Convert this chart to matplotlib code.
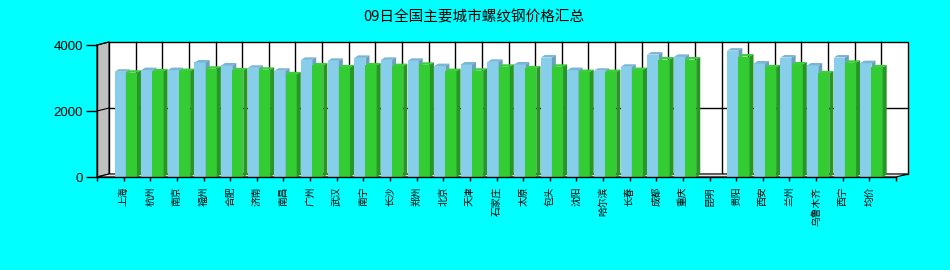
import numpy as np
import matplotlib
matplotlib.use("Agg")
import matplotlib.pyplot as plt
from matplotlib.patches import Polygon

plt.rcParams['font.family'] = ['Noto Sans CJK SC', 'DejaVu Sans']

cities = ['上海', '杭州', '南京', '福州', '合肥', '济南', '南昌', '广州', '武汉', '南宁',
          '长沙', '郑州', '北京', '天津', '石家庄', '太原', '包头', '沈阳', '哈尔滨', '长春',
          '成都', '重庆', '昆明', '贵阳', '西安', '兰州', '乌鲁木齐', '西宁', '均价']
price_a = [3190, 3240, 3240, 3470, 3380, 3310, 3220, 3550, 3520, 3610,
           3550, 3520, 3360, 3410, 3490, 3410, 3620, 3240, 3220, 3340,
           3710, 3640, np.nan, 3830, 3440, 3620, 3380, 3620, 3450]
price_b = [3160, 3200, 3210, 3280, 3230, 3250, 3110, 3380, 3320, 3380,
           3360, 3400, 3210, 3220, 3340, 3290, 3340, 3180, 3180, 3240,
           3560, 3560, np.nan, 3650, 3320, 3410, 3140, 3460, 3320]
yticks = [0, 2000, 4000]

W, H = 950, 270
fig = plt.figure(figsize=(9.5, 2.7), dpi=100, facecolor='#00FFFF')
# front plane of the 3D box in pixels: x 97..896, y 177 (0) .. 45 (4000)
ax = fig.add_axes([97 / W, (H - 177) / H, 799 / W, 132 / H])
ax.set_xlim(0, 30)
ax.set_ylim(0, 4000)
ax.patch.set_alpha(0)

upx = 30 / 799.0      # x units per pixel
upy = 4000 / 132.0    # y units per pixel
wdx, wdy = 12 * upx, 3 * upy   # wall depth
bdx, bdy = 4 * upx, 2.5 * upy  # bar depth

def poly(pts, fc, ec='none', lw=0.8, z=1):
    p = Polygon(pts, closed=True, facecolor=fc, edgecolor=ec, linewidth=lw,
                zorder=z, clip_on=False)
    ax.add_patch(p)

# back wall
poly([(wdx, wdy), (30 + wdx, wdy), (30 + wdx, 4000 + wdy), (wdx, 4000 + wdy)],
     'white', 'black', 1.0, 0)
for t in yticks[1:-1]:
    ax.plot([wdx, 30 + wdx], [t + wdy, t + wdy], color='black', lw=1.0,
            zorder=0.5, clip_on=False)
for k in range(1, 30):
    ax.plot([k + wdx, k + wdx], [wdy, 4000 + wdy], color='black', lw=1.0,
            zorder=0.5, clip_on=False)
# left wall
poly([(0, 0), (wdx, wdy), (wdx, 4000 + wdy), (0, 4000)], '#C0C0C0', 'black', 0.8, 0.6)
for t in yticks[1:]:
    ax.plot([0, wdx], [t, t + wdy], color='black', lw=0.8, zorder=0.7, clip_on=False)
# floor
poly([(0, 0), (wdx, wdy), (30 + wdx, wdy), (30, 0)], '#E4E4E4', 'black', 0.8, 0.6)

x = np.arange(1, len(cities) + 1)

def bar3d(x0, w, v, front, top, side):
    if np.isnan(v):
        return
    ax.bar(x0, v, width=w, align='edge', color=front, zorder=2, linewidth=0)
    poly([(x0, v), (x0 + w, v), (x0 + w + bdx, v + bdy), (x0 + bdx, v + bdy)], top, z=2)
    poly([(x0 + w, 0), (x0 + w + bdx, bdy), (x0 + w + bdx, v + bdy), (x0 + w, v)], side, z=2)

for xi, a, b in zip(x, price_a, price_b):
    bar3d(xi - 0.34, 0.42, a, '#87CEEB', '#78B6D4', '#6A9FBD')
    bar3d(xi + 0.08, 0.42, b, '#33CC33', '#3AD03A', '#269626')

ax.spines['top'].set_visible(False)
ax.spines['right'].set_visible(False)
ax.spines['left'].set_linewidth(1.0)
ax.spines['bottom'].set_linewidth(1.0)
ax.spines['left'].set_zorder(3)
ax.spines['bottom'].set_zorder(3)

ax.set_yticks(yticks)
ax.set_yticklabels([str(t) for t in yticks], fontsize=9.5,
                   family=['Liberation Sans', 'DejaVu Sans'])
ax.tick_params(axis='y', length=8, width=1.0, pad=2)
ax.set_xticks(np.arange(0, 31))
ax.set_xticklabels([''] + cities + [''], rotation=90, fontsize=7, va='top')
ax.tick_params(axis='x', length=3, width=1.0, pad=4)

fig.text(474 / W, 1 - 17 / H, '09日全国主要城市螺纹钢价格汇总', ha='center', va='center',
         fontsize=10.5)

fig.savefig('out.png', dpi=100, facecolor=fig.get_facecolor())
